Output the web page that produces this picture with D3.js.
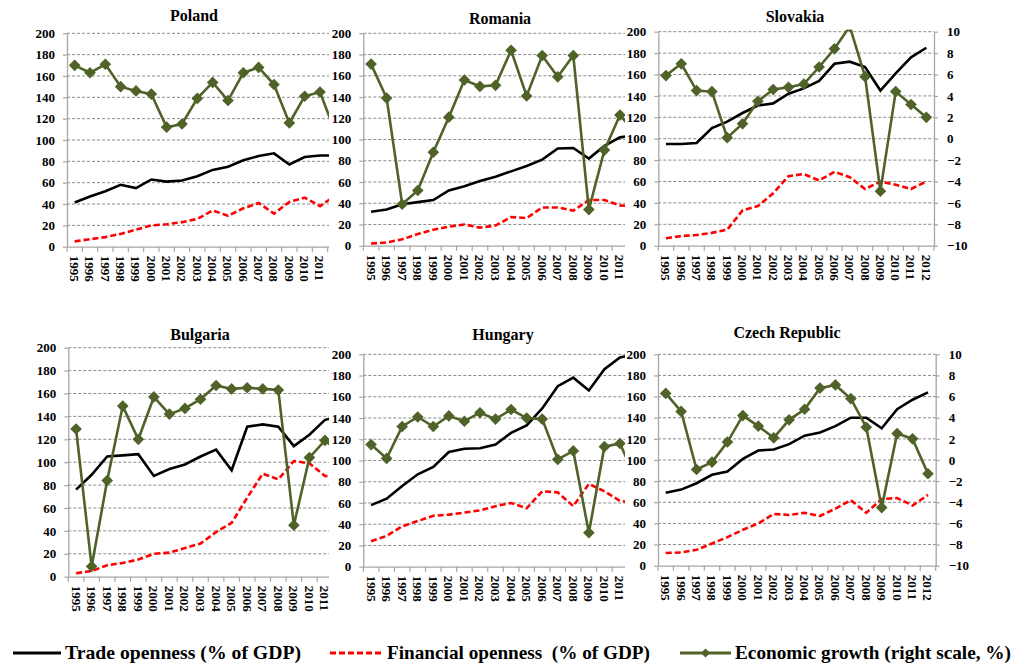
<!DOCTYPE html>
<html>
<head>
<meta charset="utf-8">
<script src="https://cdn.jsdelivr.net/npm/d3@7"></script>
<style>
  body { margin: 0; background: #fff; }
  svg { display: block; }
  text { font-family: "Liberation Serif", "Times New Roman", serif; font-weight: bold; fill: #000; }
</style>
</head>
<body>
<svg id="chart" width="1015" height="665"></svg>
<script>
// categories and tick values
var years = ["1995","1996","1997","1998","1999","2000","2001","2002","2003","2004","2005","2006","2007","2008","2009","2010","2011","2012"];
var leftTicks = [0, 20, 40, 60, 80, 100, 120, 140, 160, 180, 200];
var rightTicks = [-10, -8, -6, -4, -2, 0, 2, 4, 6, 8, 10];

// trade openness (% of GDP), financial openness (% of GDP), growth (%)
var polandTrade = [41.5, 47, 52, 58, 55, 63, 61, 62, 66, 72, 75, 81, 85, 87.5, 77, 84, 85.5, 85.5];
var polandFin = [5, 7, 9, 12, 16, 20, 21, 23, 26, 34, 29, 36, 41, 31, 42, 46, 38, 48];
var polandGrowth = [7.0, 6.3, 7.1, 5.0, 4.6, 4.3, 1.2, 1.5, 3.9, 5.4, 3.7, 6.3, 6.8, 5.2, 1.6, 4.1, 4.5, 0.7];

var romaniaTrade = [32, 34, 39, 41, 43, 52, 56, 61, 65, 70, 75, 81, 91.5, 92, 82, 94, 102, 104];
var romaniaFin = [2, 3, 6, 11, 15, 18, 20, 17, 19, 27, 26, 36, 36, 33, 43, 43, 38, 37];
var romaniaGrowth = [7.1, 3.9, -6.1, -4.8, -1.2, 2.1, 5.6, 5.0, 5.1, 8.4, 4.1, 7.9, 5.9, 7.9, -6.6, -1.0, 2.3, 0.6];

var slovakiaTrade = [95, 95, 96, 110, 116, 124, 131, 133, 142, 147, 154, 170, 172, 167, 145, 161, 176, 185];
var slovakiaFin = [7, 9, 10, 12, 15, 33, 37, 49, 65, 67, 61, 69, 64, 53, 60, 57, 53, 60];
var slovakiaGrowth = [5.9, 7.0, 4.5, 4.4, 0.1, 1.4, 3.5, 4.6, 4.8, 5.1, 6.7, 8.4, 10.5, 5.8, -4.9, 4.4, 3.2, 2.0];

var bulgariaTrade = [76, 89, 105, 106, 107, 88, 94, 98, 105, 111, 93, 131, 133, 131, 114, 124, 137, 140];
var bulgariaFin = [3, 5, 10, 12, 15, 20, 21, 25, 29, 39, 47, 69, 90, 85, 101, 99, 88, 87];
var bulgariaGrowth = [2.9, -9.1, -1.6, 4.9, 2.0, 5.7, 4.2, 4.7, 5.5, 6.7, 6.4, 6.5, 6.4, 6.3, -5.5, 0.4, 1.9, 0.8];

var hungaryTrade = [58, 64, 76, 87, 94, 108, 111, 111.5, 115, 126, 133, 149, 170, 178, 166, 186, 197, 200];
var hungaryFin = [24, 29, 38, 43, 48, 49, 51, 53, 57, 60, 55, 71, 70, 57, 78, 71, 62, 60];
var hungaryGrowth = [1.5, 0.2, 3.2, 4.1, 3.2, 4.2, 3.7, 4.5, 3.9, 4.8, 4.0, 3.9, 0.1, 0.9, -6.8, 1.3, 1.6, -1.7];

var czechTrade = [69, 72, 78, 86, 89, 101, 109, 110, 115, 123, 126, 132, 140, 140, 130, 148, 157, 164];
var czechFin = [12, 12.5, 15, 21, 27, 34, 40, 49, 48, 50, 47, 54, 62, 50, 63, 64, 57, 67];
var czechGrowth = [6.3, 4.6, -0.9, -0.2, 1.7, 4.2, 3.2, 2.1, 3.8, 4.8, 6.8, 7.1, 5.8, 3.1, -4.5, 2.5, 2.0, -1.3];

var legendLabels = ["Trade openness (% of GDP)", "Financial openness  (% of GDP)", "Economic growth (right scale, %)"];

var olive = "#4f6228";
var serif = "Liberation Serif, Times New Roman, serif";
var svg = d3.select("#chart");

// panel boxes, drawn in order so later charts cover the edges of earlier ones
var panels = [
  { name: "Poland", trade: polandTrade, fin: polandFin, growth: polandGrowth,
    bx: 0, by: 0, bh: 300, left: 67, right: 343, top: 33.3, bottom: 246.7, tx: 194, ty: 21 },
  { name: "Romania", trade: romaniaTrade, fin: romaniaFin, growth: romaniaGrowth,
    bx: 329, by: 0, bh: 300, left: 363.3, right: 643.3, top: 33.3, bottom: 245.7, tx: 500, ty: 24 },
  { name: "Slovakia", trade: slovakiaTrade, fin: slovakiaFin, growth: slovakiaGrowth,
    bx: 625, by: 0, bh: 300, left: 658.3, right: 934, top: 31.7, bottom: 245.7, tx: 795, ty: 22 },
  { name: "Bulgaria", trade: bulgariaTrade, fin: bulgariaFin, growth: bulgariaGrowth,
    bx: 0, by: 300, bh: 320, left: 68.3, right: 348.3, top: 347.7, bottom: 576.7, tx: 200, ty: 340 },
  { name: "Hungary", trade: hungaryTrade, fin: hungaryFin, growth: hungaryGrowth,
    bx: 329, by: 300, bh: 320, left: 363.3, right: 643.3, top: 354.3, bottom: 566.7, tx: 503, ty: 340 },
  { name: "Czech Republic", trade: czechTrade, fin: czechFin, growth: czechGrowth,
    bx: 625, by: 300, bh: 320, left: 658, right: 935.7, top: 354.3, bottom: 565.7, tx: 787, ty: 338 }
];

panels.forEach(function (p, i) {
  drawPanel(p, i);
});

function drawPanel(p, i) {
  var g = svg.append("g").attr("class", "panel");
  g.append("rect")
    .attr("x", p.bx).attr("y", p.by)
    .attr("width", 1015 - p.bx).attr("height", p.bh)
    .attr("fill", "#fff");

  var x = d3.scaleBand().domain(years).range([p.left, p.right]);
  var y = d3.scaleLinear().domain([0, 200]).range([p.bottom, p.top]);
  var y2 = d3.scaleLinear().domain([-10, 10]).range([p.bottom, p.top]);
  var cx = function (k) { return x(years[k]) + x.bandwidth() / 2; };

  // dashed gridlines
  g.append("g").selectAll("line")
    .data(leftTicks.slice(1))
    .join("line")
    .attr("x1", p.left).attr("x2", p.right)
    .attr("y1", function (d) { return y(d); })
    .attr("y2", function (d) { return y(d); })
    .attr("stroke", "#8a8a8a")
    .attr("stroke-width", 1)
    .attr("stroke-dasharray", "3,2");

  // left axis
  var ax = g.append("g")
    .attr("transform", "translate(" + p.left + ",0)")
    .call(d3.axisLeft(y).tickValues(leftTicks).tickSize(4).tickPadding(8).tickSizeOuter(0));
  styleAxis(ax);

  // right axis (growth)
  var ar = g.append("g")
    .attr("transform", "translate(" + p.right + ",0)")
    .call(d3.axisRight(y2).tickValues(rightTicks).tickSize(4).tickPadding(9).tickSizeOuter(0));
  styleAxis(ar);

  // bottom axis, ticks between categories
  var ab = g.append("g")
    .attr("transform", "translate(0," + p.bottom + ")")
    .call(d3.axisBottom(x).tickSize(0).tickSizeOuter(0));
  styleAxis(ab);
  ab.selectAll(".tick text")
    .attr("transform", "rotate(90)")
    .attr("x", 9).attr("y", 0).attr("dy", "0.35em")
    .style("text-anchor", "start");
  ab.append("g").selectAll("line")
    .data(years.concat(["end"]))
    .join("line")
    .attr("x1", function (d) { return d === "end" ? p.right : x(d); })
    .attr("x2", function (d) { return d === "end" ? p.right : x(d); })
    .attr("y1", 0).attr("y2", 5)
    .attr("stroke", "#a6a6a6").attr("stroke-width", 1.2);

  // series, clipped to the plot area
  var clipId = "clip" + i;
  g.append("clipPath").attr("id", clipId)
    .append("rect")
    .attr("x", p.left).attr("y", p.top - 2)
    .attr("width", p.right - p.left).attr("height", p.bottom - p.top + 2);
  var s = g.append("g").attr("clip-path", "url(#" + clipId + ")");

  var lineL = d3.line().x(function (d, k) { return cx(k); }).y(function (d) { return y(d); });
  var lineR = d3.line().x(function (d, k) { return cx(k); }).y(function (d) { return y2(d); });

  s.append("path").datum(p.trade)
    .attr("d", lineL).attr("fill", "none")
    .attr("stroke", "#000").attr("stroke-width", 2.6);

  s.append("path").datum(p.fin)
    .attr("d", lineL).attr("fill", "none")
    .attr("stroke", "#ff0000").attr("stroke-width", 2.6)
    .attr("stroke-dasharray", "6,3");

  s.append("path").datum(p.growth)
    .attr("d", lineR).attr("fill", "none")
    .attr("stroke", olive).attr("stroke-width", 2.6);

  s.append("g").selectAll("path")
    .data(p.growth)
    .join("path")
    .attr("d", d3.symbol(d3.symbolSquare, 68))
    .attr("transform", function (d, k) { return "translate(" + cx(k) + "," + y2(d) + ") rotate(45)"; })
    .attr("fill", olive);

  // title
  g.append("text")
    .attr("x", p.tx).attr("y", p.ty)
    .attr("text-anchor", "middle")
    .attr("font-family", serif)
    .style("font-size", "16px")
    .text(p.name);
}

function styleAxis(a) {
  a.attr("font-family", serif).attr("font-size", 13).attr("font-weight", "bold");
  a.select(".domain").attr("stroke", "#a6a6a6").attr("stroke-width", 1.3);
  a.selectAll(".tick line").attr("stroke", "#a6a6a6").attr("stroke-width", 1.2);
  a.selectAll(".tick text")
    .style("font-size", "13px")
    .style("font-family", serif)
    .style("font-weight", "bold")
    .attr("fill", "#000");
}

// legend
var legend = svg.append("g").attr("class", "legend").attr("font-family", serif);
var legY = 653;
var legItems = [
  { x1: 13, x2: 61, tx: 65, tw: 236, stroke: "#000", dash: null, marker: false },
  { x1: 330, x2: 382, tx: 387, tw: 263, stroke: "#ff0000", dash: "6,3", marker: false },
  { x1: 680, x2: 731, tx: 735, tw: 276, stroke: olive, dash: null, marker: true }
];
legItems.forEach(function (it, k) {
  legend.append("line")
    .attr("x1", it.x1).attr("x2", it.x2)
    .attr("y1", legY).attr("y2", legY)
    .attr("stroke", it.stroke).attr("stroke-width", 3)
    .attr("stroke-dasharray", it.dash);
  if (it.marker) {
    legend.append("path")
      .attr("d", d3.symbol(d3.symbolSquare, 40))
      .attr("transform", "translate(" + ((it.x1 + it.x2) / 2) + "," + legY + ") rotate(45)")
      .attr("fill", olive);
  }
  legend.append("text")
    .attr("x", it.tx).attr("y", legY + 6)
    .attr("textLength", it.tw)
    .attr("lengthAdjust", "spacingAndGlyphs")
    .style("font-size", "19px")
    .style("font-family", serif)
    .style("white-space", "pre")
    .text(legendLabels[k]);
});
</script>
</body>
</html>
